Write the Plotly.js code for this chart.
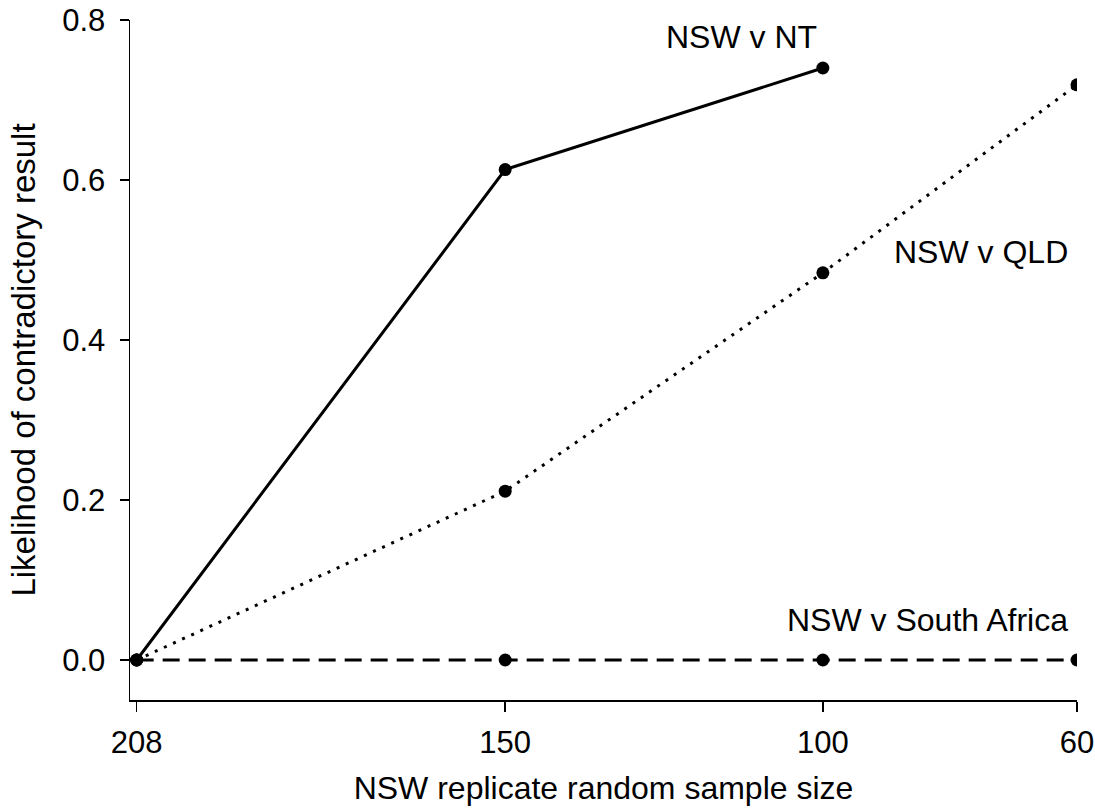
<!DOCTYPE html>
<html>
<head>
<meta charset="utf-8">
<script src="https://cdn.plot.ly/plotly-3.0.1.min.js"></script>
<style>html,body{margin:0;padding:0;background:#fff;}#chart{width:1095px;height:810px;}</style>
</head>
<body>
<div id="chart"></div>
<script>
const sampleSizes = [208, 150, 100, 60];
const ntX = [208, 150, 100];
const ntY = [0.0, 0.613, 0.74];
const qldX = [208, 150, 100, 60];
const qldY = [0.0, 0.211, 0.484, 0.719];
const saX = [208, 150, 100, 60];
const saY = [0.0, 0.0, 0.0, 0.0];
const yTicks = [0.0, 0.2, 0.4, 0.6, 0.8];
const yTickLabels = ["0.0", "0.2", "0.4", "0.6", "0.8"];
const labelNT = "NSW v NT";
const labelQLD = "NSW v QLD";
const labelSA = "NSW v South Africa";

const marker = {color: '#000', size: 13};
const traces = [
  {x: saX, y: saY, mode: 'lines+markers', line: {color: '#000', width: 2.8, dash: '17px,9px'}, marker: marker, name: labelSA},
  {x: qldX, y: qldY, mode: 'lines+markers', line: {color: '#000', width: 3, dash: '3px,7px'}, marker: marker, name: labelQLD},
  {x: ntX, y: ntY, mode: 'lines+markers', line: {color: '#000', width: 3}, marker: marker, name: labelNT}
];
const font = {family: 'Arial, "Liberation Sans", sans-serif', color: '#000'};
const layout = {
  width: 1095, height: 810,
  margin: {l: 130, r: 18, t: 20, b: 110},
  paper_bgcolor: '#fff', plot_bgcolor: '#fff',
  showlegend: false,
  font: font,
  xaxis: {
    range: [209.05, 60],
    tickvals: sampleSizes,
    ticktext: sampleSizes.map(String),
    showgrid: false, zeroline: false,
    showline: true, linecolor: '#000', linewidth: 1.5,
    ticks: 'outside', ticklen: 10, tickwidth: 1.5, tickcolor: '#000',
    ticklabelstandoff: 4,
    tickfont: {size: 31, family: font.family, color: '#000'},
    title: {text: 'NSW replicate random sample size', font: {size: 32, family: font.family, color: '#000'}, standoff: 18}
  },
  yaxis: {
    range: [-0.05, 0.8],
    tickvals: yTicks,
    ticktext: yTickLabels,
    showgrid: false, zeroline: false,
    showline: true, linecolor: '#000', linewidth: 1.5,
    ticks: 'outside', ticklen: 9, tickwidth: 1.5, tickcolor: '#000',
    ticklabelstandoff: 8,
    tickfont: {size: 31, family: font.family, color: '#000'},
    title: {text: 'Likelihood of contradictory result', font: {size: 33, family: font.family, color: '#000'}, standoff: 16}
  },
  annotations: [
    {x: 112.85, y: 0.779, xref: 'x', yref: 'y', text: labelNT, showarrow: false, xanchor: 'center', yanchor: 'middle', font: {size: 32, family: font.family, color: '#000'}},
    {x: 75.1, y: 0.51, xref: 'x', yref: 'y', text: labelQLD, showarrow: false, xanchor: 'center', yanchor: 'middle', font: {size: 32, family: font.family, color: '#000'}},
    {x: 83.6, y: 0.05, xref: 'x', yref: 'y', text: labelSA, showarrow: false, xanchor: 'center', yanchor: 'middle', font: {size: 32, family: font.family, color: '#000'}}
  ]
};
Plotly.newPlot('chart', traces, layout, {displayModeBar: false, staticPlot: true});
</script>
</body>
</html>
